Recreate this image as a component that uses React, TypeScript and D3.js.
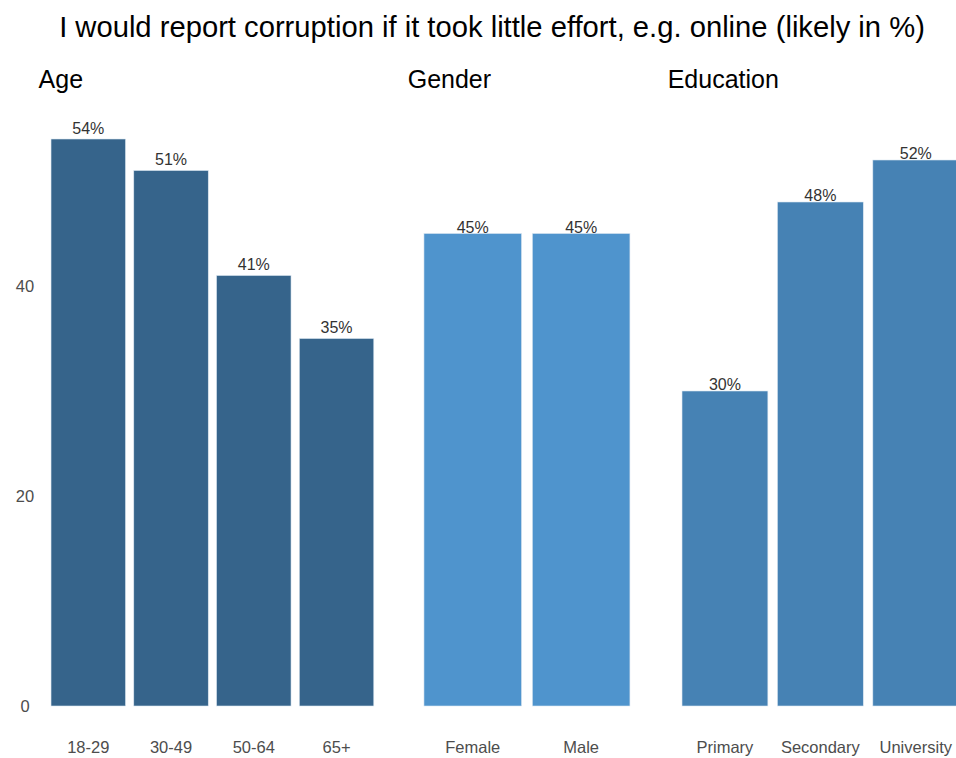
import React from "react";
import * as d3 from "d3";

const title = "I would report corruption if it took little effort, e.g. online (likely in %)";
const panelNames = ["Age", "Gender", "Education"];
const ageCats = ["18-29", "30-49", "50-64", "65+"];
const ageVals = [54, 51, 41, 35];
const genderCats = ["Female", "Male"];
const genderVals = [45, 45];
const eduCats = ["Primary", "Secondary", "University"];
const eduVals = [30, 48, 52];
const yTicks = [0, 20, 40];
const panelColors = ["#36648B", "#4F94CD", "#4682B4"];

const W = 956;
const H = 758;

export default function App() {
  const y = d3.scaleLinear().domain([0, 40]).range([706, 286]);
  const panels = [
    { name: panelNames[0], cats: ageCats, vals: ageVals, x0: 38.6, x1: 386.2, color: panelColors[0], lblOff: 5.5 },
    { name: panelNames[1], cats: genderCats, vals: genderVals, x0: 407.7, x1: 646.2, color: panelColors[1], lblOff: 1 },
    { name: panelNames[2], cats: eduCats, vals: eduVals, x0: 667.7, x1: 973, color: panelColors[2], lblOff: 1.5 },
  ];
  const font = "'Liberation Sans', Arial, sans-serif";
  return (
    <svg width={W} height={H} style={{ position: "absolute", left: 0, top: 0, background: "#fff" }} fontFamily={font}>
      <rect width={W} height={H} fill="#fff" />
      <text x={492} y={37} textAnchor="middle" fontSize={29.2} fill="#000">{title}</text>
      {yTicks.map((t) => (
        <text key={t} x={25} y={y(t)} dy="0.36em" textAnchor="middle" fontSize={16.5} fill="#4d4d4d">{t}</text>
      ))}
      {panels.map((p) => {
        const x = d3.scaleBand<string>().domain(p.cats).range([p.x0, p.x1]).paddingInner(0.1).paddingOuter(0.15);
        return (
          <g key={p.name}>
            <text x={p.x0} y={88} fontSize={25} fill="#000">{p.name}</text>
            {p.cats.map((c, i) => (
              <g key={c}>
                <rect
                  x={x(c)!}
                  y={y(p.vals[i])}
                  width={x.bandwidth()}
                  height={y(0) - y(p.vals[i])}
                  fill={p.color}
                  stroke="#dbe7f1"
                  strokeWidth={0.6}
                />
                <text x={x(c)! + x.bandwidth() / 2} y={y(p.vals[i]) - p.lblOff} textAnchor="middle" fontSize={16} fill="#333">
                  {p.vals[i] + "%"}
                </text>
                <text x={x(c)! + x.bandwidth() / 2} y={753} textAnchor="middle" fontSize={16.5} fill="#4d4d4d">{c}</text>
              </g>
            ))}
          </g>
        );
      })}
    </svg>
  );
}
